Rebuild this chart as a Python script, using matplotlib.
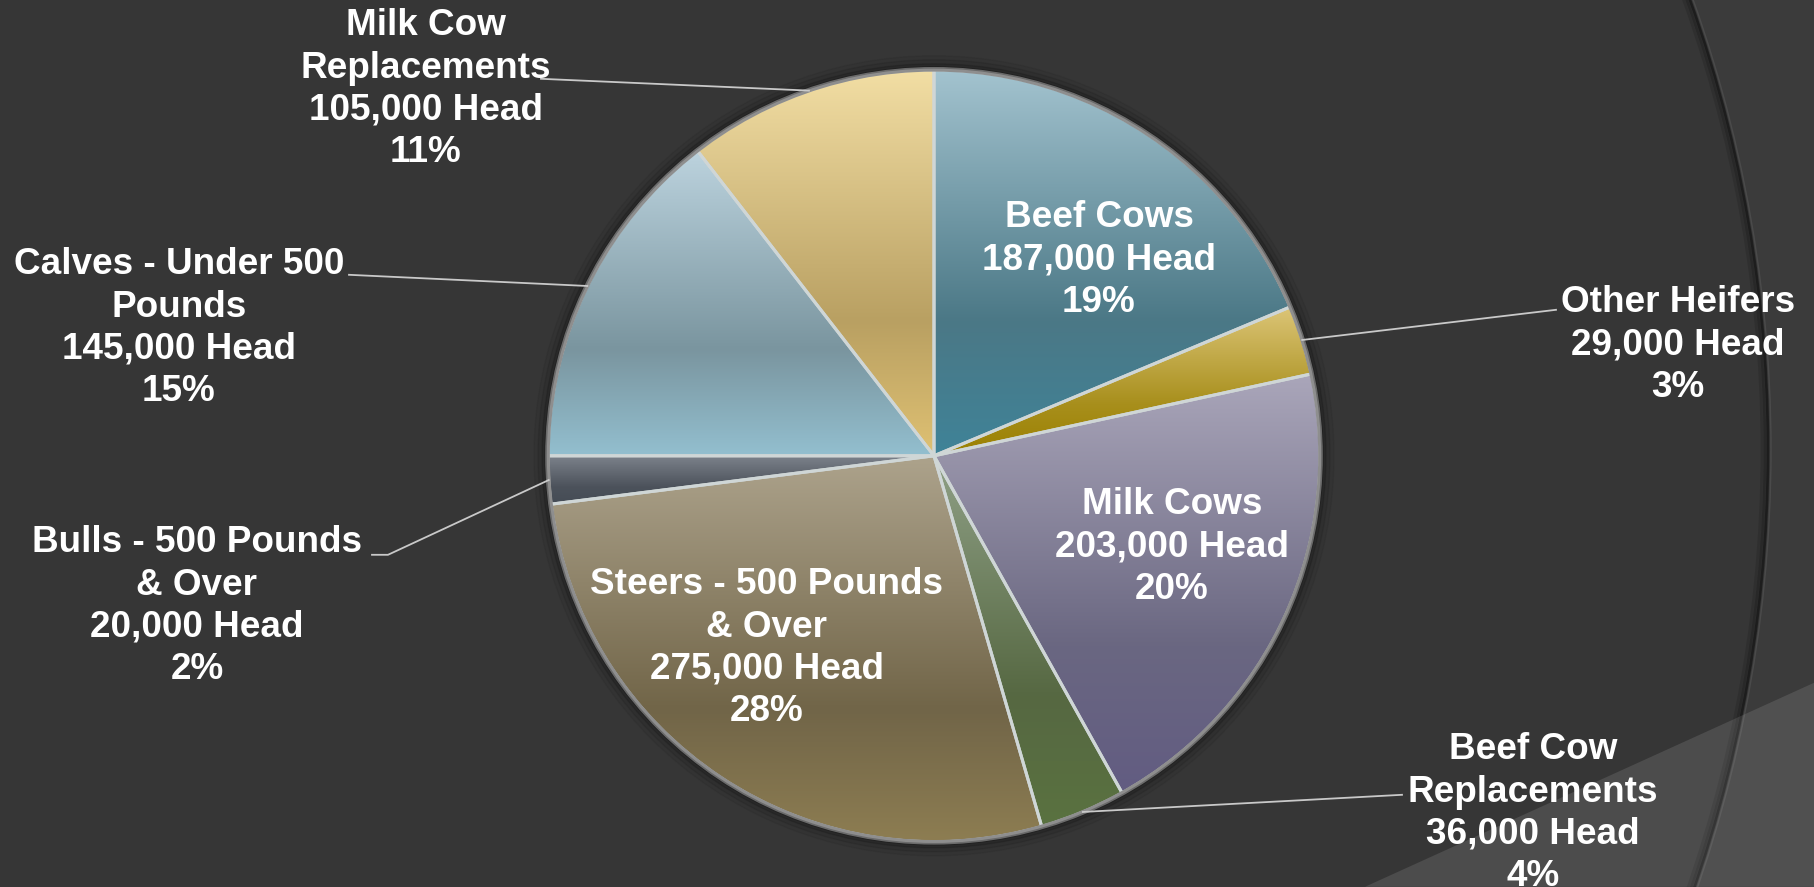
# Cattle inventory pie chart with gradient slices on a dark slide background
import numpy as np
import matplotlib
matplotlib.use("Agg")
import matplotlib.pyplot as plt
from matplotlib.patches import Circle, Polygon, Rectangle
from matplotlib.colors import LinearSegmentedColormap

categories = ["Beef Cows", "Other Heifers", "Milk Cows", "Beef Cow\nReplacements",
              "Steers - 500 Pounds\n& Over", "Bulls - 500 Pounds\n& Over",
              "Calves - Under 500\nPounds", "Milk Cow\nReplacements"]
head = [187000, 29000, 203000, 36000, 275000, 20000, 145000, 105000]

# slice gradients: top, middle, bottom
top_colors = ["#a3c3cf", "#dcc577", "#aaa6ba", "#8fa086", "#ada38c", "#7d838c", "#bcd3de", "#f2dea4"]
mid_colors = ["#4b7886", "#a88f1c", "#6a6781", "#566842", "#716548", "#4c525b", "#7a959f", "#b9a062"]
bottom_colors = ["#3f8398", "#9a8000", "#625c82", "#5a7240", "#8e7e52", "#454c55", "#93bfcf", "#dfc173"]

W, H = 1814, 887
BG = "#363636"

fig = plt.figure(figsize=(W / 100, (H + 0.4) / 100), dpi=100, facecolor=BG)
ax = fig.add_axes([0, 0, 1, 1])
ax.set_facecolor(BG)

# theme decoration: big circle arc on the right and lighter lower-right band
arc_c, arc_r = (431, H - 450), 1337
ax.add_patch(Rectangle((0, 0), W, H, color="#3b3b3b", zorder=0))
ax.add_patch(Circle(arc_c, arc_r, color=BG, zorder=0.1))
for k, a in [(0, 0.45), (3, 0.25), (6, 0.12)]:
    ax.add_patch(Circle(arc_c, arc_r - k, fill=False, ec="black", lw=2, alpha=a, zorder=0.2))
ax.add_patch(Circle(arc_c, arc_r + 3, fill=False, ec="#555555", lw=1, alpha=0.6, zorder=0.2))
ax.add_patch(Polygon([(1365, 0), (W, H - 683), (W, 0)], closed=True, fc="white",
                     ec="none", alpha=0.11, zorder=0.3))

# pie
cx, cy, r = 934, H - 456, 386
for k, a in [(14, 0.05), (10, 0.08), (6, 0.12), (3, 0.18)]:
    ax.add_patch(Circle((cx, cy), r + k, color="black", alpha=a, zorder=1))

wedges, _ = ax.pie(head, startangle=90, counterclock=False, center=(cx, cy), radius=r,
                   wedgeprops=dict(fc="none", ec="#cfd6d6", lw=2.2, zorder=3))

grad = np.linspace(0, 1, 256).reshape(-1, 1)
for w, top, mid, bot in zip(wedges, top_colors, mid_colors, bottom_colors):
    v = w.get_path().vertices
    x0, x1 = v[:, 0].min(), v[:, 0].max()
    y0, y1 = v[:, 1].min(), v[:, 1].max()
    cmap = LinearSegmentedColormap.from_list("g", [(0, bot), (0.35, mid), (1, top)])
    im = ax.imshow(grad, cmap=cmap, extent=(x0, x1, y0, y1), origin="lower",
                   aspect="auto", interpolation="bilinear", zorder=2)
    im.set_clip_path(w)

ax.add_patch(Circle((cx, cy), r, fill=False, ec="#8e8e8e", lw=2.6, zorder=4))
ax.add_patch(Circle((cx, cy), r + 2, fill=False, ec="#6a6a6a", lw=1.2, zorder=4))

# labels
total = sum(head)
label_xy = [(1099, 260), (1678, 345), (1172, 547), (1533, 813),
            (767, 648), (197, 606), (179, 328), (426, 89)]
# leader line starts (None = label sits inside the slice)
leader_start = [None, [(1556, 310)], None, [(1402, 795)],
                None, [(372, 555), (388, 555)], [(349, 275)], [(541, 79)]]

for w, name, val, (lx, ly), lead in zip(wedges, categories, head, label_xy, leader_start):
    pct = (val * 100 + total // 2) // total
    ax.text(lx, H - ly, f"{name}\n{val:,} Head\n{pct}%", ha="center", va="center",
            multialignment="center", color="white", fontsize=26.6, fontweight="bold",
            family="Liberation Sans", linespacing=1.27, zorder=6)
    if lead:
        ang = np.deg2rad((w.theta1 + w.theta2) / 2)
        px = [p[0] for p in lead] + [cx + r * np.cos(ang)]
        py = [H - p[1] for p in lead] + [cy + r * np.sin(ang)]
        ax.plot(px, py, color="#c9c9c9", lw=1.3, zorder=5)

ax.set_xlim(0, W)
ax.set_ylim(0, H)
ax.set_aspect("equal")
ax.axis("off")

fig.savefig("out.png", dpi=100, facecolor=BG)
